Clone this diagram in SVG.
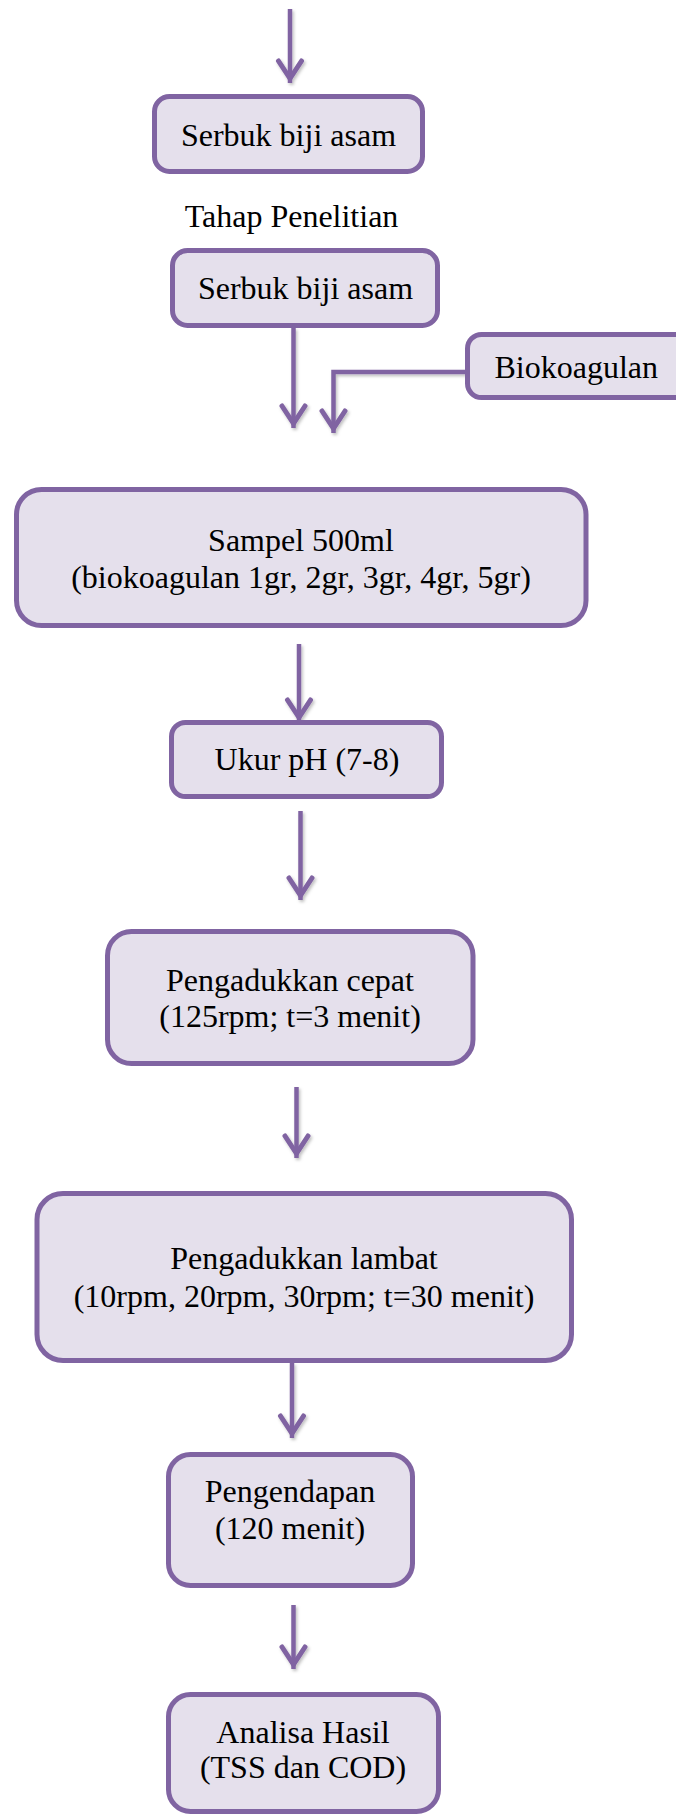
<svg xmlns="http://www.w3.org/2000/svg" width="676" height="1816" viewBox="0 0 676 1816">
<style>
.box{fill:#E5E0EC;stroke:#8064A2;stroke-width:5}
.t{font-family:"Liberation Serif","Times New Roman",serif;font-size:32px;fill:#000;text-anchor:middle}
.c{fill:none;stroke:#8064A2;stroke-width:4.5;marker-end:url(#ah)}
</style>
<defs>
<filter id="sh" x="-50%" y="-10%" width="200%" height="120%">
<feDropShadow dx="1.5" dy="2" stdDeviation="1.5" flood-color="#000" flood-opacity="0.25"/>
</filter>
<marker id="ah" markerUnits="userSpaceOnUse" orient="auto" overflow="visible" markerWidth="30" markerHeight="30" refX="0" refY="0" viewBox="-30 -15 30 30">
<path d="M-22,-11.5 L-4.5,0 L-22,11.5" fill="none" stroke="#8064A2" stroke-width="5" stroke-linejoin="miter" stroke-linecap="round"/>
</marker>
</defs>
<rect width="676" height="1816" fill="#fff"/>
<g id="connectors" filter="url(#sh)">
<path class="c" d="M290,9 V83"/>
<path class="c" d="M293.5,328 V428"/>
<path class="c" d="M466,372 H333.5 V433"/>
<path class="c" d="M299,644 V722"/>
<path class="c" d="M300.5,811 V900"/>
<path class="c" d="M296.5,1087 V1158"/>
<path class="c" d="M292,1363 V1438"/>
<path class="c" d="M293.5,1605 V1669"/>
</g>
<g id="n1">
<rect class="box" x="154.5" y="96.5" width="268" height="75" rx="15"/>
<text class="t" x="288.5" y="146">Serbuk biji asam</text>
</g>
<g id="title">
<text class="t" x="291.5" y="227">Tahap Penelitian</text>
</g>
<g id="n2">
<rect class="box" x="172.5" y="250.5" width="265" height="75" rx="15"/>
<text class="t" x="305.5" y="299">Serbuk biji asam</text>
</g>
<g id="n3">
<rect class="box" x="467.5" y="334.5" width="240" height="63" rx="14"/>
<text class="t" x="494.5" y="378" style="text-anchor:start">Biokoagulan</text>
</g>
<g id="n4">
<rect class="box" x="16.5" y="489.5" width="569.5" height="136" rx="25"/>
<text class="t" x="301" y="551">Sampel 500ml</text>
<text class="t" x="301" y="588">(biokoagulan 1gr, 2gr, 3gr, 4gr, 5gr)</text>
</g>
<g id="n5">
<rect class="box" x="171.5" y="722.5" width="270" height="74" rx="14"/>
<text class="t" x="307" y="770">Ukur pH (7-8)</text>
</g>
<g id="n6">
<rect class="box" x="107.5" y="931.5" width="365.5" height="132" rx="24"/>
<text class="t" x="290" y="991">Pengadukkan cepat</text>
<text class="t" x="290" y="1027">(125rpm; t=3 menit)</text>
</g>
<g id="n7">
<rect class="box" x="37" y="1193.5" width="534.5" height="167" rx="26"/>
<text class="t" x="304" y="1269">Pengadukkan lambat</text>
<text class="t" x="304" y="1307">(10rpm, 20rpm, 30rpm; t=30 menit)</text>
</g>
<g id="n8">
<rect class="box" x="168.5" y="1454.5" width="244" height="131" rx="22"/>
<text class="t" x="290" y="1502">Pengendapan</text>
<text class="t" x="290" y="1539">(120 menit)</text>
</g>
<g id="n9">
<rect class="box" x="168.5" y="1694.5" width="270" height="117" rx="22"/>
<text class="t" x="303" y="1743">Analisa Hasil</text>
<text class="t" x="303" y="1778">(TSS dan COD)</text>
</g>
</svg>
